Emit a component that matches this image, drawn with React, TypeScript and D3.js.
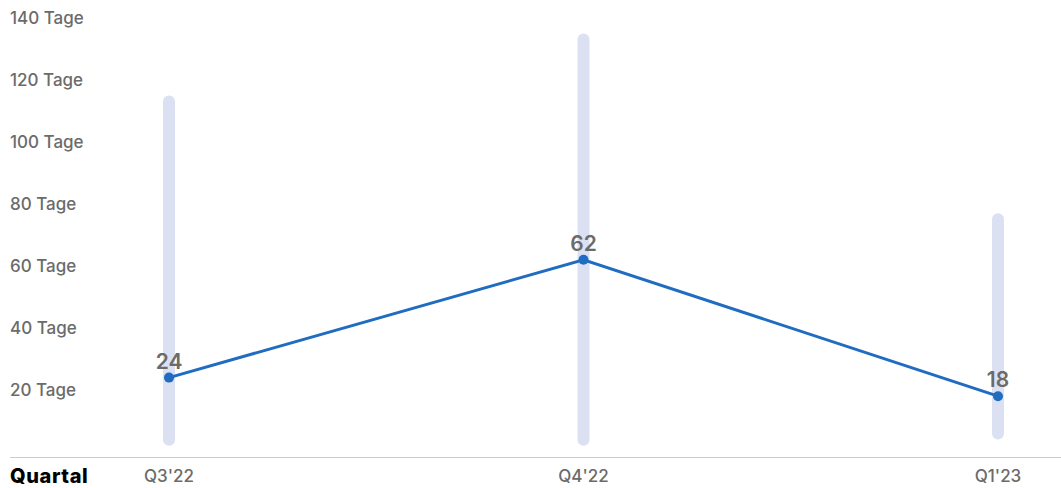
import React from "react";
import * as d3 from "d3";

const quarters = ["Q3'22", "Q4'22", "Q1'23"];
const medianDays = [24, 62, 18];
const rangeLow = [2, 2, 4];
const rangeHigh = [115, 135, 77];
const yTicks = [20, 40, 60, 80, 100, 120, 140];

const W = 1061;
const H = 488;
const FONT = "Inter, 'Liberation Sans', Arial, sans-serif";

export default function App() {
  const x = d3.scalePoint<string>().domain(quarters).range([169, 998]);
  const y = d3.scaleLinear().domain([0, 140]).range([452, 18]);

  const line = d3
    .line<number>()
    .x((_, i) => x(quarters[i]) as number)
    .y((d) => y(d));

  const barW = 12;

  return (
    <svg
      width={W}
      height={H}
      style={{ position: "absolute", left: 0, top: 0, fontFamily: FONT }}
    >
      {yTicks.map((t) => (
        <text
          key={t}
          x={10}
          y={y(t)}
          dy="0.35em"
          fontSize={17}
          fontWeight={500}
          fill="#6b6b6b"
        >
          {`${t} Tage`}
        </text>
      ))}

      {quarters.map((q, i) => (
        <rect
          key={q}
          x={(x(q) as number) - barW / 2}
          y={y(rangeHigh[i])}
          width={barW}
          height={y(rangeLow[i]) - y(rangeHigh[i])}
          rx={barW / 2}
          fill="#dce0f3"
        />
      ))}

      <line x1={10} x2={W} y1={457.5} y2={457.5} stroke="#cccccc" strokeWidth={1} />

      <text x={10} y={483} fontSize={20} fontWeight={800} letterSpacing={0.6} fill="#000">
        Quartal
      </text>
      {quarters.map((q) => (
        <text
          key={q}
          x={x(q) as number}
          y={482}
          textAnchor="middle"
          fontSize={17}
          fontWeight={500}
          fill="#6b6b6b"
        >
          {q}
        </text>
      ))}

      <path d={line(medianDays) || ""} fill="none" stroke="#1f6cc0" strokeWidth={3} />
      {medianDays.map((v, i) => (
        <g key={i}>
          <circle cx={x(quarters[i]) as number} cy={y(v)} r={5} fill="#1f6cc0" />
          <text
            x={x(quarters[i]) as number}
            y={y(v) - 9}
            textAnchor="middle"
            fontSize={21}
            fontWeight={600}
            fill="#6b6b6b"
          >
            {v}
          </text>
        </g>
      ))}
    </svg>
  );
}
